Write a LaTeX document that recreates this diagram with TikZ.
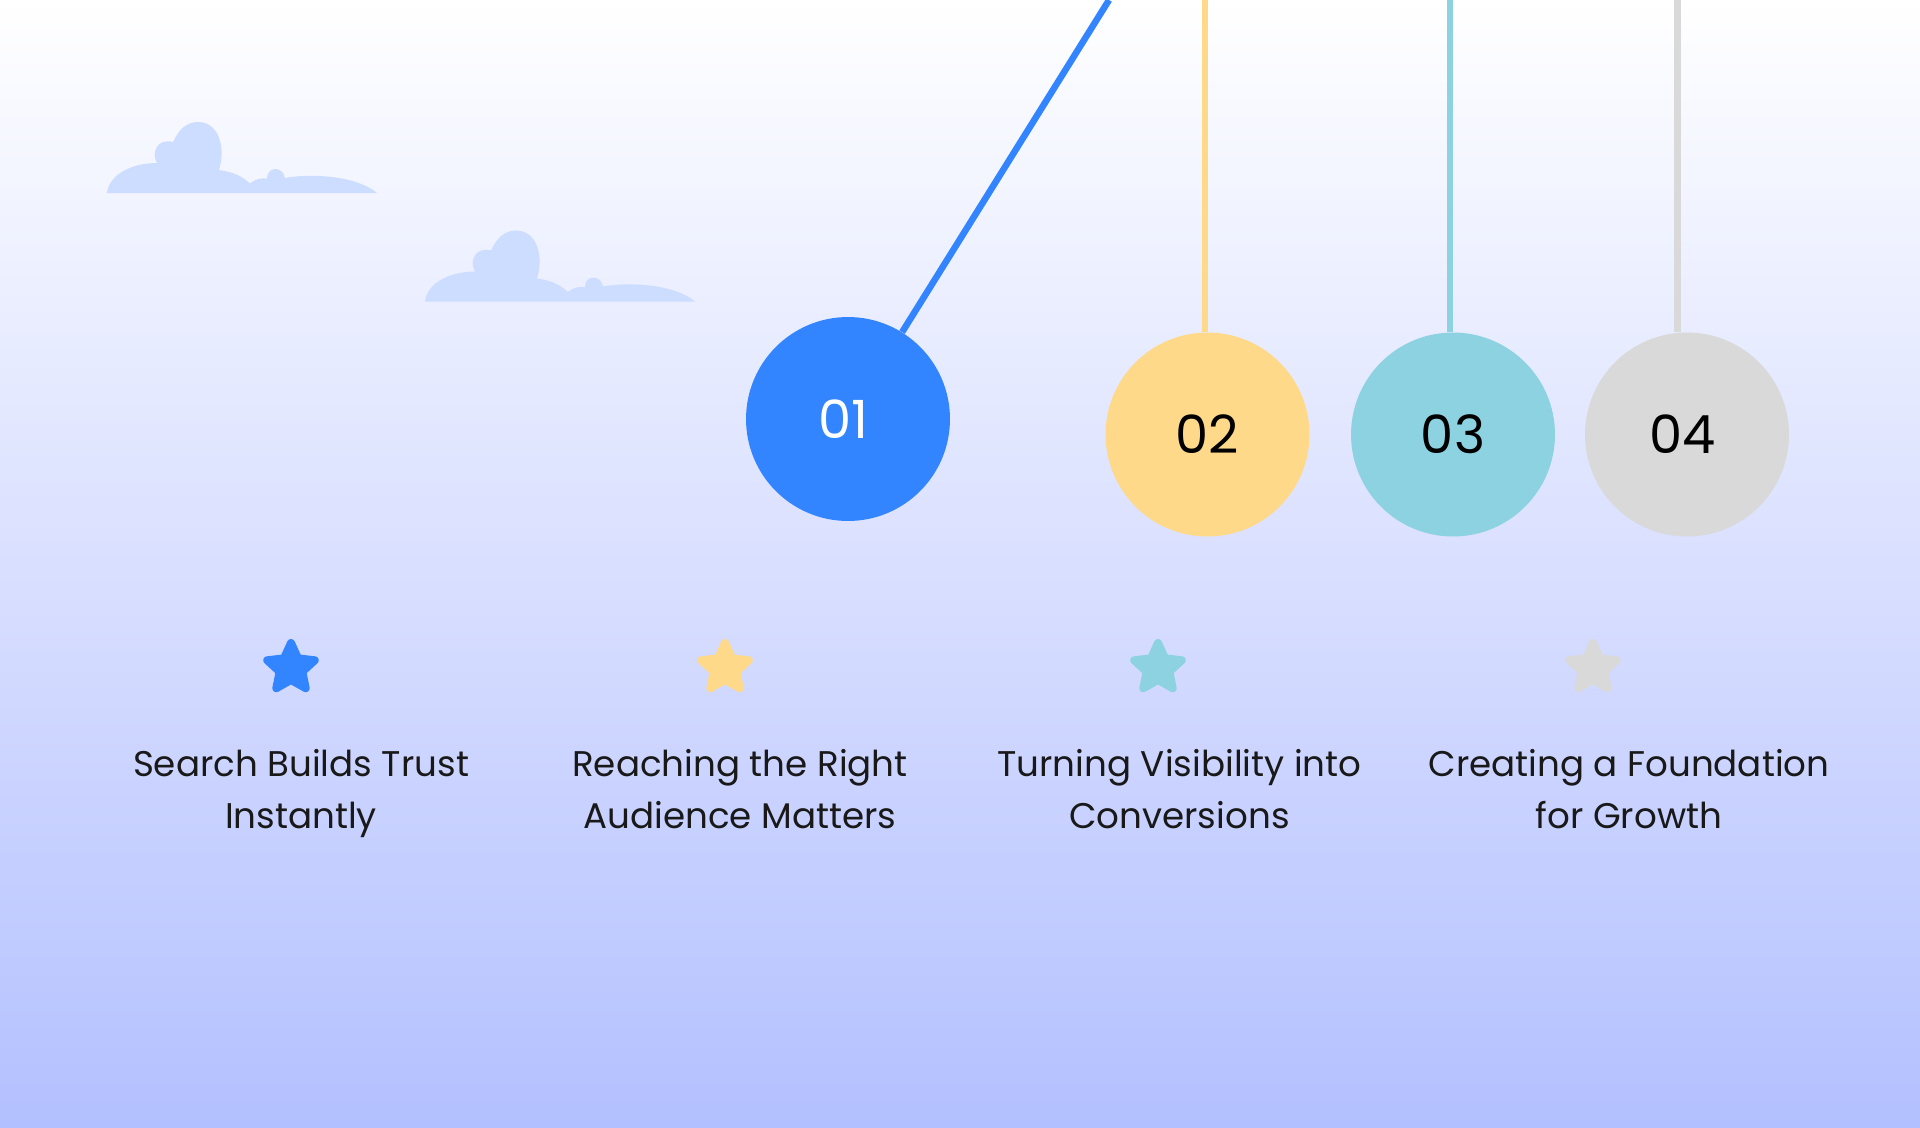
\documentclass[tikz,border=0pt]{standalone}
\usepackage{fontspec}
\setmainfont{Poppins}
\usetikzlibrary{shapes.geometric}

\definecolor{blueball}{HTML}{3385FF}
\definecolor{yellowball}{HTML}{FFD98A}
\definecolor{tealball}{HTML}{8CD2E0}
\definecolor{grayball}{HTML}{D9D9D9}
\definecolor{cloudfill}{HTML}{CCDDFF}
\definecolor{skytop}{HTML}{FFFFFF}
\definecolor{skybottom}{HTML}{B3C0FF}

\tikzset{
	ball/.style={circle,fill=#1,minimum size=4.08cm,inner sep=0pt,font=\fontsize{30}{30}\selectfont,text=black},
	wire/.style={draw=#1,line width=0.13cm},
	starmark/.style={star,star points=5,star point ratio=2.1,minimum size=1.0cm,inner sep=0pt,fill=#1,draw=#1,line width=0.16cm,line join=round},
	caption/.style={align=center,font=\fontsize{20.3}{29.5}\selectfont,text=black!90},
	cloud puff/.pic={
		\fill[cloudfill] (0,0)
			.. controls (2,-18) and (24,-30) .. (50,-30)
			.. controls (44,-40) and (50,-55) .. (66,-51)
			.. controls (72,-64) and (80,-71) .. (91,-71)
			.. controls (112,-71) and (119,-45) .. (112,-23)
			.. controls (127,-21) and (136,-16) .. (143,-9.5)
			.. controls (148,-14) and (154,-15) .. (160,-14.5)
			.. controls (160,-27) and (176,-27) .. (178,-15)
			.. controls (205,-20) and (250,-17) .. (270,0)
			-- cycle;
	}
}

\begin{document}
\begin{tikzpicture}[x=0.02cm,y=-0.02cm]
	\shade[top color=skytop,bottom color=skybottom] (0,0) rectangle (1920,1127);
	\useasboundingbox (0,0) rectangle (1920,1127);

	% clouds
	\pic at (107,193) {cloud puff};
	\pic at (425,301.5) {cloud puff};

	% balls
	\node[ball=blueball,text=white] (ball1) at (848,419) {01\kern5pt};
	\node[ball=yellowball] (ball2) at (1207.5,434.5) {02};
	\node[ball=tealball] (ball3) at (1453,434.5) {03};
	\node[ball=grayball] (ball4) at (1687,434.5) {04\kern5pt};

	% strings
	\coordinate (top1) at (1109,0);
	\coordinate (top2) at (1205,0);
	\coordinate (top3) at (1450,0);
	\coordinate (top4) at (1677.5,0);
	\draw[wire=blueball] (top1) -- (ball1);
	\draw[wire=yellowball] (top2) -- (top2 |- ball2.north);
	\draw[wire=tealball] (top3) -- (top3 |- ball3.north);
	\draw[wire=grayball] (top4) -- (top4 |- ball4.north);

	% stars
	\node[starmark=blueball] (star1) at (291,668) {};
	\node[starmark=yellowball] (star2) at (725,668) {};
	\node[starmark=tealball] (star3) at (1158,668) {};
	\node[starmark=grayball] (star4) at (1593,668) {};

	% captions
	\node[caption] (text1) at (301,793.5) {Search Builds Trust\\Instantly};
	\node[caption] (text2) at (740,789) {Reaching the Right\\Audience Matters};
	\node[caption] (text3) at (1179.5,789) {Turning Visibility into\\Conversions};
	\node[caption] (text4) at (1629,789) {Creating a Foundation\\for Growth};
\end{tikzpicture}
\end{document}
